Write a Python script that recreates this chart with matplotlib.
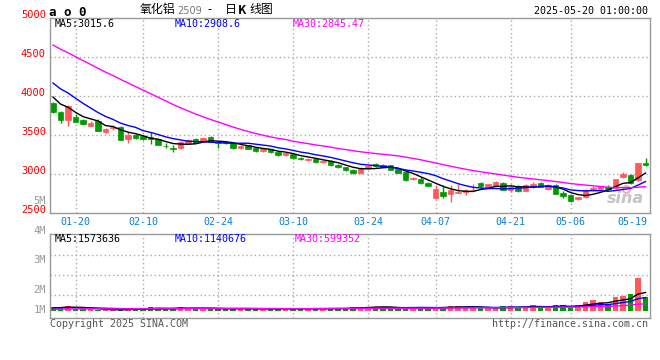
import numpy as np
import pandas as pd
import matplotlib
matplotlib.use('Agg')
import matplotlib.pyplot as plt
import matplotlib.transforms as mtransforms

# trading days 2025-01-15 .. 2025-05-20 (exchange holidays taken out)
holidays = ['2025-01-28', '2025-01-29', '2025-01-30', '2025-01-31', '2025-02-03',
            '2025-02-04', '2025-04-04', '2025-05-01', '2025-05-02', '2025-05-05']
days = pd.bdate_range('2025-01-15', '2025-05-20')
days = days[~days.isin(pd.to_datetime(holidays))]
dates = list(days.strftime('%m-%d'))

opens = [3918, 3803, 3692, 3738, 3700, 3624, 3683, 3546, 3590, 3603,
         3453, 3504, 3495, 3482, 3449, 3368, 3338, 3333, 3405, 3453,
         3427, 3482, 3418, 3415, 3405, 3335, 3370, 3335, 3300, 3320,
         3290, 3250, 3260, 3210, 3185, 3200, 3160, 3170, 3125, 3095,
         3060, 3020, 3075, 3130, 3125, 3119, 3064, 3026, 2936, 2940,
         2885, 2700, 2777, 2744, 2760, 2769, 2795, 2885, 2829, 2855,
         2893, 2799, 2842, 2786, 2855, 2885, 2812, 2863, 2757, 2735,
         2680, 2705, 2799, 2815, 2842, 2820, 2970, 2991, 2927, 3149]
highs = [3930, 3815, 3885, 3769, 3710, 3680, 3713, 3600, 3636, 3623,
         3546, 3520, 3505, 3541, 3460, 3398, 3376, 3425, 3450, 3460,
         3480, 3490, 3425, 3425, 3415, 3375, 3380, 3345, 3330, 3325,
         3300, 3280, 3270, 3220, 3210, 3205, 3185, 3180, 3130, 3100,
         3065, 3090, 3120, 3140, 3135, 3125, 3070, 3030, 2965, 2970,
         2905, 2865, 2865, 2865, 2872, 2810, 2880, 2900, 2880, 2915,
         2900, 2870, 2860, 2870, 2895, 2905, 2870, 2870, 2780, 2750,
         2715, 2810, 2850, 2855, 2860, 2945, 3030, 3010, 3150, 3205]
lows = [3782, 3662, 3623, 3667, 3632, 3615, 3551, 3526, 3571, 3440,
        3406, 3450, 3440, 3392, 3370, 3337, 3290, 3325, 3400, 3395,
        3420, 3410, 3337, 3390, 3330, 3325, 3320, 3290, 3290, 3275,
        3240, 3240, 3195, 3180, 3175, 3150, 3150, 3110, 3080, 3040,
        3005, 3010, 3065, 3100, 3090, 3050, 3015, 2910, 2925, 2880,
        2845, 2680, 2700, 2649, 2757, 2730, 2780, 2830, 2820, 2845,
        2795, 2770, 2770, 2780, 2825, 2835, 2800, 2745, 2700, 2640,
        2670, 2690, 2790, 2800, 2800, 2810, 2950, 2870, 2915, 3110]
closes = [3803, 3700, 3876, 3674, 3645, 3662, 3559, 3585, 3610, 3444,
          3504, 3462, 3453, 3453, 3376, 3360, 3330, 3418, 3440, 3405,
          3469, 3418, 3397, 3400, 3341, 3365, 3330, 3300, 3320, 3285,
          3250, 3270, 3205, 3190, 3200, 3160, 3175, 3120, 3090, 3050,
          3020, 3080, 3110, 3110, 3100, 3055, 3021, 2927, 2957, 2885,
          2850, 2812, 2726, 2799, 2770, 2799, 2805, 2850, 2872, 2898,
          2799, 2842, 2790, 2863, 2876, 2842, 2863, 2748, 2722, 2658,
          2710, 2799, 2829, 2845, 2808, 2936, 3000, 2885, 3141, 3119]
# closes of the 29 sessions before the window, only used for the averages
prev_closes = [5300, 5250, 5200, 5150, 5100, 5080, 5020, 4960,
               4900, 4880, 4850, 4820, 4800, 4780, 4750, 4720, 4690, 4650, 4600, 4520,
               4450, 4400, 4350, 4300, 4250, 4150, 4080, 4000, 3920]

volume_k = [360, 360, 450, 180, 170, 150, 100, 90, 80, 90,
            240, 200, 190, 360, 200, 190, 190, 360, 240, 190,
            200, 200, 190, 190, 200, 210, 190, 200, 190, 200,
            190, 210, 200, 200, 190, 210, 220, 220, 210, 220,
            300, 380, 380, 380, 300, 260, 170, 260, 260, 340,
            250, 280, 340, 400, 400, 340, 340, 220, 220, 220,
            400, 400, 340, 340, 470, 340, 340, 470, 470, 280,
            530, 750, 900, 800, 557, 1170, 1250, 1420, 2800, 1230]
prev_volume_k = [60, 70, 70, 80, 80, 90, 90, 100, 100, 100,
                 110, 110, 120, 120, 120, 130, 130, 140, 140, 140,
                 200, 220, 250, 240, 230, 210, 230, 250, 240]

date_labels = ['01-20', '02-10', '02-24', '03-10', '03-24', '04-07', '04-21', '05-06', '05-19']
price_ticks = [5000, 4500, 4000, 3500, 3000, 2500]
vol_tick_labels = ['5M', '4M', '3M', '2M', '1M']
vol_tick_at = [9350, 6840, 4335, 1785, 85]

RED = '#ff5a5a'
GREEN = '#009a00'
GRID = '#aaaaaa'
MONO = 'DejaVu Sans Mono'
CJK = ['Noto Sans CJK SC', 'DejaVu Sans']

O = np.array(opens); H = np.array(highs); L = np.array(lows); C = np.array(closes)
V = np.array(volume_k)
x = np.arange(len(closes))
cols = [RED if c >= o else GREEN for o, c in zip(opens, closes)]

allc = pd.Series(prev_closes + closes)
n0 = len(prev_closes)
ma5 = allc.rolling(5).mean().values[n0:]
ma10 = allc.rolling(10).mean().values[n0:]
ma30 = allc.rolling(30).mean().values[n0:]
allv = pd.Series(prev_volume_k + volume_k)
m0 = len(prev_volume_k)
vma5 = allv.rolling(5).mean().values[m0:]
vma10 = allv.rolling(10).mean().values[m0:]
vma30 = allv.rolling(30).mean().values[m0:]

W, Hh = 660.0, 360.0
def fx(px): return px / W
def fy(py): return 1 - py / Hh

fig = plt.figure(figsize=(6.6, 3.6), dpi=100)
fig.patch.set_facecolor('white')

ax = fig.add_axes([fx(50), fy(213.3), 600 / W, 195 / Hh])
ax2 = fig.add_axes([fx(50), fy(318), 600 / W, 84 / Hh])

grid_pos = [dates.index(d) for d in date_labels]

for a in (ax, ax2):
    a.set_xlim(-0.4, 79.6)
    a.set_xticks([])
    for s in a.spines.values():
        s.set_color('#9a9a9a')
        s.set_linewidth(1)
    for g in grid_pos[:-1]:
        a.axvline(g, color=GRID, lw=1, ls=(0, (1, 2)), zorder=0)

# price panel
ax.set_ylim(2500, 5000)
ax.set_yticks(price_ticks)
ax.set_yticklabels([str(t) for t in price_ticks], family=MONO, fontsize=7.5, color='#ee0000')
for lbl in ax.get_yticklabels():
    lbl.set_va('baseline')
ax.tick_params(axis='y', length=0, pad=3)
for t in price_ticks[1:-1]:
    ax.axhline(t, color=GRID, lw=1, ls=(0, (1, 2)), zorder=0)

ax.vlines(x, L, H, colors=cols, lw=1, zorder=2)
ax.bar(x, np.maximum(np.abs(C - O), 5), bottom=np.minimum(O, C), width=0.76,
       color=cols, edgecolor=cols, lw=0.5, zorder=2)
ax.plot(x, ma5, color='black', lw=1, zorder=3)
ax.plot(x, ma10, color='#0000ff', lw=1, zorder=3)
ax.plot(x, ma30, color='#ff00ff', lw=1, zorder=3)

ax.text(0.99, 0.035, 'sina', transform=ax.transAxes, ha='right', va='bottom',
        fontsize=11.5, fontstyle='italic', fontweight='bold', color='#c4c4c4', zorder=1)
ax.plot([0.96], [0.125], transform=ax.transAxes, marker='o', ms=5, mfc='none',
        mec='#eeaaaa', mew=1.3, zorder=1)

trans = mtransforms.blended_transform_factory(ax.transData, ax.transAxes)
for lab, g in zip(date_labels, grid_pos):
    if lab == date_labels[-1]:
        ax.text(79.3, -0.043, lab, transform=trans, ha='right', va='center',
                family=MONO, fontsize=7.2, color='#0a7fd4')
    else:
        ax.text(g, -0.043, lab, transform=trans, ha='center', va='center',
                family=MONO, fontsize=7.2, color='#0a7fd4')

# volume panel
ax2.set_ylim(-595, 6545)
ax2.set_yticks([])
for t in [4785, 3060, 1335]:
    ax2.axhline(t, color=GRID, lw=1, ls=(0, (1, 2)), zorder=0)
ax2.bar(x, V, width=0.76, color=cols, zorder=2)
ax2.plot(x, vma5, color='black', lw=1, zorder=3)
ax2.plot(x, vma10, color='#0000ff', lw=1, zorder=3)
ax2.plot(x, vma30, color='#ff00ff', lw=1, zorder=3)
vtrans = mtransforms.blended_transform_factory(ax2.transAxes, ax2.transData)
for lab, v in zip(vol_tick_labels, vol_tick_at):
    ax2.text(-0.007, v, lab, transform=vtrans, ha='right', va='center',
             family=MONO, fontsize=7.5, color='#9a9a9a', clip_on=False)

# header / footer texts
fig.text(fx(49), fy(12), 'a o 0', family=MONO, fontweight='bold', fontsize=9,
         ha='left', va='center')
fig.text(fx(140), fy(10), '氧化铝', family=CJK, fontsize=8.6, ha='left', va='center')
fig.text(fx(177), fy(11), '2509', family='DejaVu Sans', fontsize=7, color='#777777',
         ha='left', va='center')
fig.text(fx(207), fy(10), '-', family=CJK, fontsize=8.6, ha='left', va='center')
fig.text(fx(225), fy(10), '日', family=CJK, fontsize=8.6, ha='left', va='center')
fig.text(fx(237.5), fy(10), 'K', family=CJK, fontsize=8.6, fontweight='bold',
         ha='left', va='center')
fig.text(fx(249), fy(10), '线图', family=CJK, fontsize=8.6, ha='left', va='center')
fig.text(fx(648), fy(11), '2025-05-20 01:00:00', family=MONO, fontsize=7.2,
         ha='right', va='center')

fig.text(fx(55), fy(24), 'MA5:3015.6', family=MONO, fontsize=7.2, color='black', va='center')
fig.text(fx(175), fy(24), 'MA10:2908.6', family=MONO, fontsize=7.2, color='#0000ff', va='center')
fig.text(fx(293), fy(24), 'MA30:2845.47', family=MONO, fontsize=7.2, color='#ff00ff', va='center')
fig.text(fx(55), fy(238.5), 'MA5:1573636', family=MONO, fontsize=7.2, color='black', va='center')
fig.text(fx(175), fy(238.5), 'MA10:1140676', family=MONO, fontsize=7.2, color='#0000ff', va='center')
fig.text(fx(295), fy(238.5), 'MA30:599352', family=MONO, fontsize=7.2, color='#ff00ff', va='center')

fig.text(fx(50), fy(324), 'Copyright 2025 SINA.COM', family=MONO, fontsize=7.2,
         color='#555555', va='center')
fig.text(fx(648), fy(324), 'http://finance.sina.com.cn', family=MONO, fontsize=7.2,
         color='#555555', ha='right', va='center')

fig.savefig('out.png', dpi=100, facecolor='white')
